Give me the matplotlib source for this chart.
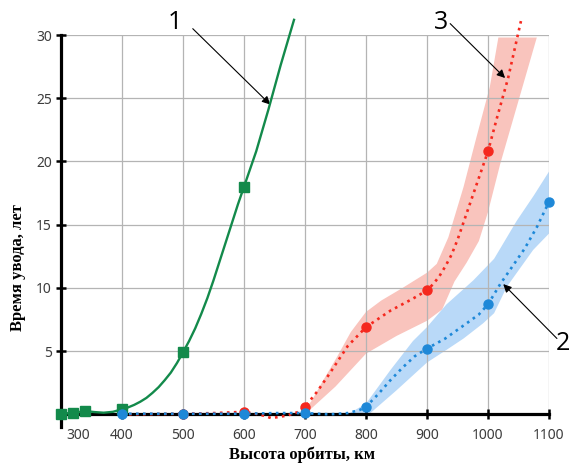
import matplotlib
matplotlib.use('Agg')
import matplotlib.pyplot as plt
import matplotlib.transforms as mtransforms

# Curve 1 (green): markers and line
green_mx = [300, 320, 340, 400, 500, 600]
green_my = [0.05, 0.12, 0.26, 0.4, 4.9, 18.0]
green_x = [300, 320, 340, 355, 370, 385, 400, 410, 420, 430, 440, 450, 460, 470, 480, 490, 500,
           510, 520, 530, 540, 550, 560, 570, 580, 590, 600, 610, 620, 640, 660, 682]
green_y = [0.05, 0.12, 0.26, 0.18, 0.13, 0.2, 0.4, 0.55, 0.75, 1.0, 1.3, 1.7, 2.15, 2.7, 3.3, 4.05, 4.9,
           5.8, 6.8, 7.95, 9.2, 10.6, 12.1, 13.6, 15.1, 16.6, 18.0, 19.4, 20.8, 24.1, 27.6, 31.2]

# Curve 3 (red)
red_mx = [500, 600, 700, 800, 900, 1000]
red_my = [0.05, 0.2, 0.6, 6.9, 9.8, 20.8]
red_x = [400, 450, 500, 550, 600, 625, 645, 670, 690, 700, 720, 740, 770, 800, 840, 875, 900, 910, 920,
         930, 940, 950, 960, 980, 1000, 1015, 1033, 1054]
red_y = [0.0, 0.02, 0.05, 0.1, 0.2, 0.0, -0.3, -0.1, 0.2, 0.6, 1.8, 3.2, 5.4, 6.9, 8.2, 9.1, 9.8, 10.3, 10.9,
         11.7, 12.6, 13.8, 15.2, 18.0, 20.8, 23.5, 26.6, 31.1]
red_up_x = [700, 710, 730, 752, 775, 800, 825, 860, 900, 916, 935, 960, 981, 1003, 1017, 1080]
red_up_y = [0.5, 1.0, 2.7, 4.5, 6.5, 8.1, 9.0, 10.0, 11.2, 11.9, 14.0, 18.0, 21.9, 25.9, 29.8, 29.8]
red_lo_x = [700, 750, 800, 850, 900, 925, 945, 965, 985, 1000, 1020, 1050, 1080]
red_lo_y = [0.0, 2.2, 4.8, 6.2, 7.4, 8.3, 10.5, 12.0, 13.7, 16.0, 19.8, 24.8, 29.8]

# Curve 2 (blue)
blue_mx = [400, 500, 600, 700, 800, 900, 1000, 1100]
blue_my = [0.05, 0.05, 0.05, 0.1, 0.6, 5.2, 8.7, 16.8]
blue_x = [400, 500, 600, 650, 700, 740, 770, 790, 800, 820, 840, 860, 880, 900, 930, 965, 985, 1000, 1020,
          1040, 1060, 1080, 1100]
blue_y = [0.05, 0.05, 0.05, 0.1, 0.1, 0.0, 0.1, 0.35, 0.6, 1.6, 2.7, 3.7, 4.6, 5.2, 6.0, 7.2, 7.9, 8.7, 10.3,
          11.7, 13.1, 14.8, 16.8]
blue_up_x = [770, 800, 840, 877, 900, 932, 976, 1010, 1047, 1075, 1100]
blue_up_y = [0.0, 0.85, 3.5, 5.8, 6.9, 8.7, 10.6, 12.3, 15.3, 17.3, 19.2]
blue_lo_x = [780, 806, 850, 900, 932, 960, 992, 1010, 1031, 1074, 1100]
blue_lo_y = [0.0, 0.05, 1.9, 4.1, 5.1, 6.0, 7.2, 8.0, 10.1, 13.0, 14.3]

x_ticks = [300, 400, 500, 600, 700, 800, 900, 1000, 1100]
y_ticks = [5, 10, 15, 20, 25, 30]

fig = plt.figure(figsize=(5.72, 4.68), dpi=100)
ax = fig.add_axes([61 / 572, 41 / 468, 488 / 572, 392 / 468])
ax.set_xlim(300, 1100)
ax.set_ylim(-1, 30)

# grid drawn by hand so it stops at the zero line
ax.vlines(x_ticks[1:], 0, 30, color='#b4b4b4', lw=0.9, zorder=1)
ax.hlines(y_ticks, 300, 1100, color='#b4b4b4', lw=0.9, zorder=1)

# uncertainty bands
ax.fill(red_up_x + red_lo_x[::-1], red_up_y + red_lo_y[::-1], color='#f9c4bd', lw=0, zorder=0.5)
ax.fill(blue_up_x + blue_lo_x[::-1], blue_up_y + blue_lo_y[::-1], color='#b9d9f8', lw=0, zorder=0.5)

# curves
ax.plot(green_x, green_y, color='#138a4b', lw=1.7, zorder=4, clip_on=False)
ax.plot(green_mx, green_my, 's', color='#138a4b', ms=6.5, zorder=5, clip_on=False)
ax.plot(red_x, red_y, ':', color='#f5281e', lw=1.9, zorder=4, clip_on=False)
ax.plot(red_mx, red_my, 'o', color='#f5281e', ms=6.5, zorder=5)
ax.plot(blue_x, blue_y, ':', color='#1e88d8', lw=1.9, zorder=4, clip_on=False)
ax.plot(blue_mx, blue_my, 'o', color='#1e88d8', ms=6.5, zorder=6, clip_on=False)

# axes styling
for s in ['top', 'right']:
    ax.spines[s].set_visible(False)
ax.spines['left'].set_linewidth(2.3)
ax.spines['bottom'].set_linewidth(2.3)
ax.spines['bottom'].set_position(('data', 0))
ax.set_xticks(x_ticks)
ax.set_yticks(y_ticks)
ax.tick_params(axis='both', direction='inout', length=7, width=1.8, colors='black',
               labelcolor='#3c3c3c', labelsize=10)
ax.tick_params(axis='x', pad=6)
ax.tick_params(axis='y', pad=3)
for lbl in ax.get_xticklabels() + ax.get_yticklabels():
    lbl.set_family('Noto Sans')

# the "300" label sits a bit right of the axis in the original
first = ax.xaxis.get_major_ticks()[0].label1
first.set_transform(first.get_transform() + mtransforms.ScaledTranslation(0.17, 0, fig.dpi_scale_trans))

fig.text(18 / 572, 1 - 268 / 468, 'Время увода, лет', rotation=90, ha='center', va='center',
         family='Liberation Serif', weight='bold', fontsize=12)
fig.text(302 / 572, 1 - 455 / 468, 'Высота орбиты, км', ha='center', va='center',
         family='Liberation Serif', weight='bold', fontsize=12)

# curve numbers
arrow = dict(arrowstyle='-|>', color='black', lw=0.8, mutation_scale=12, shrinkA=0, shrinkB=0)
ax.annotate('', xy=(643, 24.5), xytext=(516, 30.5), arrowprops=arrow, annotation_clip=False)
ax.text(487, 31.0, '1', fontsize=18, family='Open Sans', ha='center', va='center', clip_on=False)
ax.annotate('', xy=(1028, 26.6), xytext=(938, 30.9), arrowprops=arrow, annotation_clip=False)
ax.text(923, 31.0, '3', fontsize=18, family='Open Sans', ha='center', va='center', clip_on=False)
ax.annotate('', xy=(1025, 10.3), xytext=(1113, 6.0), arrowprops=arrow, annotation_clip=False)
ax.text(1123, 5.6, '2', fontsize=18, family='Open Sans', ha='center', va='center', clip_on=False)

fig.savefig('out.png', dpi=100)
